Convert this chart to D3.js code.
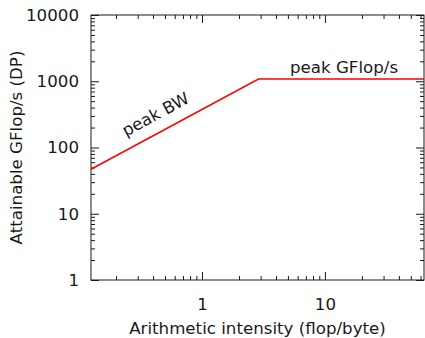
<!DOCTYPE html>
<html><head><meta charset="utf-8">
<script src="https://cdn.jsdelivr.net/npm/d3@7"></script>
<style>
html,body{margin:0;padding:0;background:#fff;}
svg{display:block;font-family:"DejaVu Sans",sans-serif;}
</style></head>
<body><svg id="c" width="425" height="338"></svg>
<script>
// Data
const intensity = [0.125, 2.88, 64];        // flop/byte
const performance = [46.9, 1080, 1080];     // GFlop/s (DP)
const xTickValues = [1, 10];
const xTickLabels = ["1", "10"];
const yTickValues = [1, 10, 100, 1000, 10000];
const yTickLabels = ["1", "10", "100", "1000", "10000"];
const labels = ["peak BW", "peak GFlop/s"];

const svg = d3.select("#c");
const L = 91, R = 424, T = 15, B = 280;
const x = d3.scaleLog().domain([0.125, 64]).range([L, R]);
const y = d3.scaleLog().domain([1, 10000]).range([B, T]);
const fs = 16.67, ink = "#1a1a1a";

// minor tick values
const xMinor = [], yMinor = [];
for (let d = 0.1; d < 100; d *= 10)
  for (let k = 1; k <= 9; k++) { const v = +(d * k).toPrecision(6); if (v >= 0.125 && v <= 64 && k !== 1) xMinor.push(v); }
for (let d = 1; d < 10000; d *= 10)
  for (let k = 2; k <= 9; k++) yMinor.push(d * k);

const g = svg.append("g");
function ticks(axisGen, tr) {
  const a = g.append("g").attr("transform", tr).call(axisGen);
  a.select(".domain").remove();
  a.selectAll("line").attr("stroke", ink).attr("stroke-width", 1);
  a.selectAll("text").attr("fill", ink).style("font-size", fs + "px").style("font-family", "DejaVu Sans");
  return a;
}
// bottom
ticks(d3.axisBottom(x).tickValues(xMinor).tickSize(-4).tickFormat(""), `translate(0,${B})`);
ticks(d3.axisBottom(x).tickValues(xTickValues).tickSize(-8).tickPadding(18)
  .tickFormat((d, i) => xTickLabels[i]), `translate(0,${B})`);
// top
ticks(d3.axisTop(x).tickValues(xMinor).tickSize(-4).tickFormat(""), `translate(0,${T})`);
ticks(d3.axisTop(x).tickValues(xTickValues).tickSize(-8).tickFormat(""), `translate(0,${T})`);
// left
ticks(d3.axisLeft(y).tickValues(yMinor).tickSize(-4).tickFormat(""), `translate(${L},0)`);
ticks(d3.axisLeft(y).tickValues(yTickValues).tickSize(-8).tickPadding(12)
  .tickFormat((d, i) => yTickLabels[i]), `translate(${L},0)`);
// right
ticks(d3.axisRight(y).tickValues(yMinor).tickSize(-4).tickFormat(""), `translate(${R},0)`);
ticks(d3.axisRight(y).tickValues(yTickValues).tickSize(-8).tickFormat(""), `translate(${R},0)`);

// frame
svg.append("rect").attr("x", L).attr("y", T).attr("width", R - L).attr("height", B - T)
  .attr("fill", "none").attr("stroke", ink).attr("stroke-width", 1);

// roofline
const pts = intensity.map((v, i) => [v, performance[i]]);
svg.append("path").datum(pts)
  .attr("d", d3.line().x(d => x(d[0])).y(d => y(d[1])))
  .attr("fill", "none").attr("stroke", "#ff0000").attr("stroke-width", 1.6);

// peak BW label along the slope
const ang = Math.atan2(y(performance[1]) - y(performance[0]), x(intensity[1]) - x(intensity[0]));
const bwAt = 0.49, bwVal = performance[0] * bwAt / intensity[0];
const px = x(bwAt), py = y(bwVal), off = 12;
const tx = px + off * Math.sin(ang), ty = py - off * Math.cos(ang);
svg.append("text").attr("x", 0).attr("y", 0)
  .attr("transform", `translate(${tx},${ty}) rotate(${ang * 180 / Math.PI})`)
  .attr("text-anchor", "middle").attr("fill", ink).style("font-size", fs + "px").text(labels[0]);

// peak GFlop/s label
svg.append("text").attr("x", x(5.2)).attr("y", y(performance[2]) - 6)
  .attr("fill", ink).style("font-size", fs + "px").text(labels[1]);

// axis titles
svg.append("text").attr("x", (L + R) / 2).attr("y", 334).attr("text-anchor", "middle")
  .attr("fill", ink).style("font-size", fs + "px").text("Arithmetic intensity (flop/byte)");
svg.append("text").attr("transform", `translate(22,${(T + B) / 2}) rotate(-90)`)
  .attr("text-anchor", "middle").attr("fill", ink).style("font-size", fs + "px").text("Attainable GFlop/s (DP)");
</script></body></html>
